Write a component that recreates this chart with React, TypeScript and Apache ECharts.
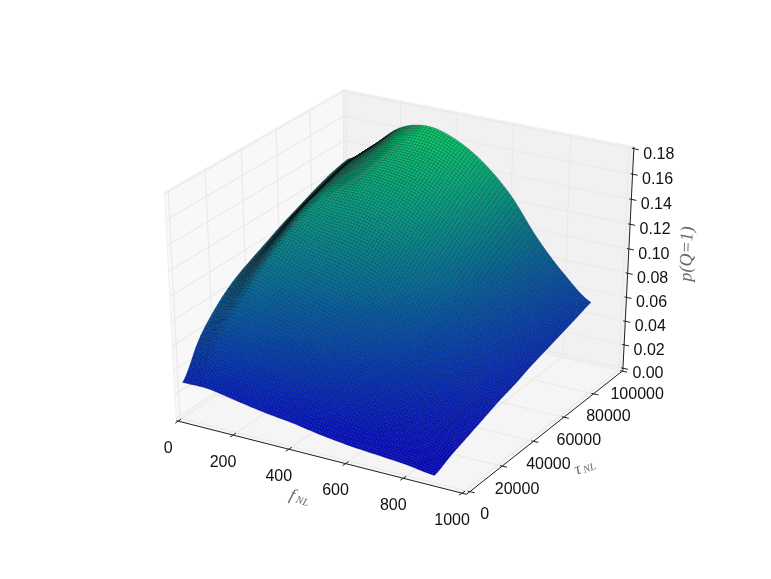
import React, { useEffect, useRef } from "react";
import * as echarts from "echarts";

const W = 771, H = 579;
const fNL = [10, 100, 200, 300, 400, 500, 600, 700, 800, 895];
const tauNL = [0, 10000, 20000, 30000, 40000, 50000, 60000, 70000, 80000, 90000, 100000];
// p(Q=1): one row per tauNL, one column per fNL
const r0 = [.029, .029, .025, .021, .018, .014, .011, .009, .007, .004];
const r1 = [.055, .056, .048, .041, .036, .030, .024, .018, .014, .010];
const r2 = [.072, .076, .066, .059, .052, .045, .036, .028, .021, .015];
const r3 = [.084, .092, .083, .076, .069, .060, .049, .038, .028, .020];
const r4 = [.092, .105, .098, .093, .085, .075, .062, .048, .035, .025];
const r5 = [.099, .116, .112, .108, .101, .090, .075, .057, .042, .029];
const r6 = [.106, .125, .124, .122, .114, .102, .085, .065, .047, .034];
const r7 = [.112, .131, .136, .134, .127, .114, .095, .072, .053, .038];
const r8 = [.118, .136, .145, .145, .139, .126, .106, .080, .058, .042];
const r9 = [.123, .140, .153, .155, .150, .137, .116, .087, .063, .046];
const r10 = [.126, .141, .160, .166, .160, .146, .124, .093, .068, .050];
const pQ = [r0, r1, r2, r3, r4, r5, r6, r7, r8, r9, r10];

const xTicks = [0, 200, 400, 600, 800, 1000];
const yTicks = [0, 20000, 40000, 60000, 80000, 100000];
const zTicks = ["0.00", "0.02", "0.04", "0.06", "0.08", "0.10", "0.12", "0.14", "0.16", "0.18"];

const xLim = [-7, 1015], yLim = [-2000, 100500], zLim = [-0.002, 0.1815];
const EL = (30 * Math.PI) / 180, AZ = (-60 * Math.PI) / 180, DIST = 10;
const SX = 3350, SY = 2610, CX = 403, CY = 285;

const n = [Math.cos(EL) * Math.cos(AZ), Math.cos(EL) * Math.sin(AZ), Math.sin(EL)];
const u = [-Math.sin(AZ), Math.cos(AZ), 0];
const v = [n[1] * u[2] - n[2] * u[1], n[2] * u[0] - n[0] * u[2], n[0] * u[1] - n[1] * u[0]];

function project(x: number, y: number, z: number): number[] {
  const p = [
    (x - xLim[0]) / (xLim[1] - xLim[0]) - 0.5 - DIST * n[0],
    (y - yLim[0]) / (yLim[1] - yLim[0]) - 0.5 - DIST * n[1],
    (z - zLim[0]) / (zLim[1] - zLim[0]) - 0.5 - DIST * n[2],
  ];
  const d = (a: number[]) => a[0] * p[0] + a[1] * p[1] + a[2] * p[2];
  const w = -d(n);
  return [CX + (SX * d(u)) / w, CY - (SY * d(v)) / w];
}

const zMin = Math.min(...pQ.flat()), zMax = Math.max(...pQ.flat());
const slopes: number[] = [];
for (const row of pQ) for (let i = 0; i + 1 < row.length; i++) slopes.push(row[i + 1] - row[i]);
const sMin = Math.min(...slopes), sMax = Math.max(...slopes);

function facetColor(z: number, slope: number): string {
  const t = Math.max(0, Math.min(1, (z - zMin) / (zMax - zMin)));
  const s = slope > 0 ? 0.86 - 0.46 * Math.min(1, slope / sMax) : 0.86 - 0.05 * (slope / sMin);
  return `rgb(0,${Math.round(255 * t * s)},${Math.round(255 * (1 - t / 2) * s)})`;
}

// smooth drawing of the surface between the values read above
function cr(a: number, b: number, c: number, d: number, s: number) {
  return b + 0.5 * s * (c - a + s * (2 * a - 5 * b + 4 * c - d + s * (3 * (b - c) + d - a)));
}
const at = (j: number, i: number) =>
  pQ[Math.max(0, Math.min(pQ.length - 1, j))][Math.max(0, Math.min(fNL.length - 1, i))];
function surf(i: number, j: number, s: number, t: number) {
  const col = (jj: number) => cr(at(jj, i - 1), at(jj, i), at(jj, i + 1), at(jj, i + 2), s);
  return cr(col(j - 1), col(j), col(j + 1), col(j + 2), t);
}

const SUB = 10;
const cells: number[][] = [];
for (let j = tauNL.length - 2; j >= 0; j--) for (let i = 0; i < fNL.length - 1; i++) cells.push([i, j]);

function renderCell(params: any, api: any) {
  const i = api.value(0), j = api.value(1);
  const pt = (s: number, t: number) =>
    api.coord(project(fNL[i] + s * (fNL[i + 1] - fNL[i]), tauNL[j] + t * (tauNL[j + 1] - tauNL[j]), surf(i, j, s, t)));
  const children: any[] = [];
  for (let tt = SUB - 1; tt >= 0; tt--) {
    for (let ss = 0; ss < SUB; ss++) {
      const s0 = ss / SUB, s1 = (ss + 1) / SUB, t0 = tt / SUB, t1 = (tt + 1) / SUB;
      const tm = (t0 + t1) / 2;
      const zm = surf(i, j, (s0 + s1) / 2, tm);
      const slope = (surf(i, j, s1, tm) - surf(i, j, s0, tm)) * SUB;
      children.push({
        type: "polygon",
        shape: { points: [pt(s0, t0), pt(s1, t0), pt(s1, t1), pt(s0, t1)] },
        style: { fill: facetColor(zm, slope), stroke: "rgba(0,0,10,0.6)", lineWidth: 0.4 },
        silent: true,
      });
    }
  }
  return { type: "group", children };
}

function renderFrame(params: any, api: any) {
  const [x0, x1] = xLim, [y0, y1] = yLim, [z0, z1] = zLim;
  const P = (x: number, y: number, z: number) => api.coord(project(x, y, z));
  const poly = (pts: number[][], fill: string) => ({
    type: "polygon", shape: { points: pts },
    style: { fill, stroke: "#f0f0f0", lineWidth: 1 }, silent: true,
  });
  const gridLine = (pts: number[][]) => ({
    type: "polyline", shape: { points: pts },
    style: { fill: "none", stroke: "#e9e9e9", lineWidth: 1.1 }, silent: true,
  });
  const ch: any[] = [
    poly([P(x0, y0, z0), P(x0, y1, z0), P(x0, y1, z1), P(x0, y0, z1)], "#f8f8f8"),
    poly([P(x0, y1, z0), P(x1, y1, z0), P(x1, y1, z1), P(x0, y1, z1)], "#f1f1f1"),
    poly([P(x0, y0, z0), P(x1, y0, z0), P(x1, y1, z0), P(x0, y1, z0)], "#f5f5f5"),
  ];
  xTicks.forEach((x) => ch.push(gridLine([P(x, y0, z0), P(x, y1, z0), P(x, y1, z1)])));
  yTicks.forEach((y) => ch.push(gridLine([P(x1, y, z0), P(x0, y, z0), P(x0, y, z1)])));
  zTicks.forEach((t) => {
    const z = Number(t);
    ch.push(gridLine([P(x0, y0, z), P(x0, y1, z), P(x1, y1, z)]));
  });
  return { type: "group", children: ch };
}

const FONT = "'Liberation Sans', Arial, sans-serif";
const SERIF = "'Liberation Serif', serif";

function renderAxes(params: any, api: any) {
  const [x0, x1] = xLim, [y0, y1] = yLim, [z0, z1] = zLim;
  const P = (x: number, y: number, z: number) => api.coord(project(x, y, z));
  const ink = "#222";
  const seg = (a: number[], b: number[], w = 1) => ({
    type: "line", shape: { x1: a[0], y1: a[1], x2: b[0], y2: b[1] },
    style: { stroke: ink, lineWidth: w }, silent: true,
  });
  const label = (s: string, p: number[]) => ({
    type: "text", x: p[0], y: p[1], silent: true,
    style: { text: s, fontFamily: FONT, fontSize: 16, fill: "#111", align: "center", verticalAlign: "middle" },
  });
  const ch: any[] = [
    seg(P(x0, y0, z0), P(x1, y0, z0)),
    seg(P(x1, y0, z0), P(x1, y1, z0)),
    seg(P(x1, y1, z0), P(x1, y1, z1)),
  ];
  xTicks.forEach((x) => {
    const a = P(x, y0, z0);
    ch.push(seg([a[0] - 3, a[1] + 2], [a[0] + 3, a[1] - 2]));
    ch.push(label(String(x), [a[0] - 10, a[1] + 26]));
  });
  yTicks.forEach((y) => {
    const a = P(x1, y, z0);
    ch.push(seg([a[0] - 2, a[1] - 0.5], [a[0] + 5, a[1] + 1]));
    ch.push(label(String(y), [a[0] + 15, a[1] + 22]));
  });
  zTicks.forEach((t) => {
    const a = P(x1, y1, Number(t));
    ch.push(seg([a[0] - 2, a[1] - 0.5], [a[0] + 5, a[1] + 1]));
    ch.push(label(t, [a[0] + 25, a[1] + 4.5]));
  });
  const sub = (x: number, y: number, rot: number, main: string, off: number) => ({
    type: "group", x, y, rotation: rot, silent: true,
    children: [
      { type: "text", x: -off, y: 0, style: { text: main, fontFamily: SERIF, fontStyle: "italic", fontSize: 17, fill: "#666", align: "center", verticalAlign: "middle" } },
      { type: "text", x: -off + 5, y: 3, style: { text: "NL", fontFamily: SERIF, fontStyle: "italic", fontSize: 10.5, fill: "#666", align: "left", verticalAlign: "middle" } },
    ],
  });
  ch.push(sub(300, 497, -0.3, "f", 8));
  ch.push(sub(585, 466, 0.35, "τ", 8));
  ch.push({
    type: "text", x: 686, y: 254, rotation: Math.PI / 2 - 0.03, silent: true,
    style: { text: "p(Q=1)", fontFamily: SERIF, fontStyle: "italic", fontSize: 18, fill: "#666", align: "center", verticalAlign: "middle" },
  });
  return { type: "group", children: ch };
}

export default function App() {
  const ref = useRef<HTMLDivElement>(null);
  useEffect(() => {
    document.body.style.margin = "0";
    const chart = echarts.init(ref.current!, null, { renderer: "svg" });
    chart.setOption({
      animation: false,
      backgroundColor: "#fff",
      grid: { left: 0, right: 0, top: 0, bottom: 0 },
      xAxis: { type: "value", min: 0, max: W, show: false },
      yAxis: { type: "value", min: 0, max: H, inverse: true, show: false },
      series: [
        { type: "custom", coordinateSystem: "cartesian2d", clip: false, silent: true, z: 1, data: [[0, 0]], renderItem: renderFrame },
        { type: "custom", coordinateSystem: "cartesian2d", clip: false, silent: true, z: 2, data: [[0, 0]], renderItem: renderAxes },
        { type: "custom", coordinateSystem: "cartesian2d", clip: false, silent: true, z: 3, data: cells, renderItem: renderCell },
      ],
    });
    return () => chart.dispose();
  }, []);
  return <div ref={ref} style={{ width: W, height: H, filter: "blur(0.35px)" }} />;
}
